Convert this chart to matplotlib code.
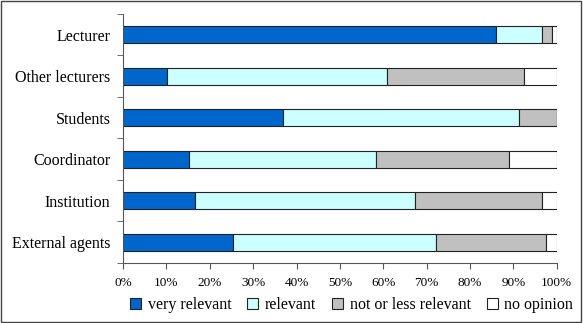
import matplotlib.pyplot as plt
import matplotlib.patches as mpatches
import numpy as np

# Du lieu doc tu hinh (phan tram)
categories = ['Lecturer', 'Other lecturers', 'Students', 'Coordinator', 'Institution', 'External agents']
very_relevant = [86.1, 10.1, 36.9, 15.3, 16.5, 25.3]
relevant = [10.4, 50.8, 54.4, 43.1, 50.8, 46.8]
not_relevant = [2.4, 31.6, 8.7, 30.5, 29.2, 25.5]
no_opinion = [1.1, 7.5, 0.0, 11.1, 3.5, 2.4]
series_names = ['very relevant', 'relevant', 'not or less relevant', 'no opinion']
xtick_labels = ['0%', '10%', '20%', '30%', '40%', '50%', '60%', '70%', '80%', '90%', '100%']

plt.rcParams['font.family'] = ['Liberation Serif', 'DejaVu Serif']

fig = plt.figure(figsize=(5.83, 3.23), dpi=100)
ax = fig.add_axes([0.211, 0.186, 0.744, 0.771])

colors = ['#0066CC', '#CCFFFF', '#C0C0C0', '#FFFFFF']
y = np.arange(len(categories))
left = np.zeros(len(categories))
handles = []
for vals, name, c in zip([very_relevant, relevant, not_relevant, no_opinion], series_names, colors):
    vals = np.array(vals)
    ax.barh(y, vals, left=left, height=0.41, color=c, edgecolor='#222222', linewidth=0.8)
    left += vals
    handles.append(mpatches.Patch(facecolor=c, edgecolor='#222222', linewidth=0.8, label=name))

ax.set_xlim(0, 100)
ax.set_ylim(len(categories) - 0.5, -0.5)
ax.set_xticks(np.arange(0, 101, 10))
ax.set_xticklabels(xtick_labels, fontsize=9.5)
ax.set_yticks(y)
ax.set_yticklabels(categories, fontsize=11.5)
ax.tick_params(axis='y', length=0, pad=9)
ax.set_yticks(np.arange(-0.5, len(categories), 1), minor=True)
ax.tick_params(axis='y', which='minor', length=4, direction='out', color='#555555')
ax.tick_params(axis='x', length=4, direction='out', color='#555555', pad=6)
ax.spines['top'].set_visible(False)
ax.spines['right'].set_visible(False)
ax.spines['left'].set_color('#555555')
ax.spines['bottom'].set_color('#555555')

fig.legend(handles=handles, loc='center', bbox_to_anchor=(0.603, 0.055), ncol=4, frameon=False,
           prop={'family': 'Liberation Serif', 'size': 11.5},
           handlelength=0.7, handleheight=0.7, handletextpad=0.4, columnspacing=1.0)

# khung vien quanh hinh
fig.patches.append(mpatches.Rectangle((0.002, 0.003), 0.995, 0.993, transform=fig.transFigure,
                                      fill=False, edgecolor='#444444', linewidth=1.0))

plt.savefig('out.png', dpi=100)
